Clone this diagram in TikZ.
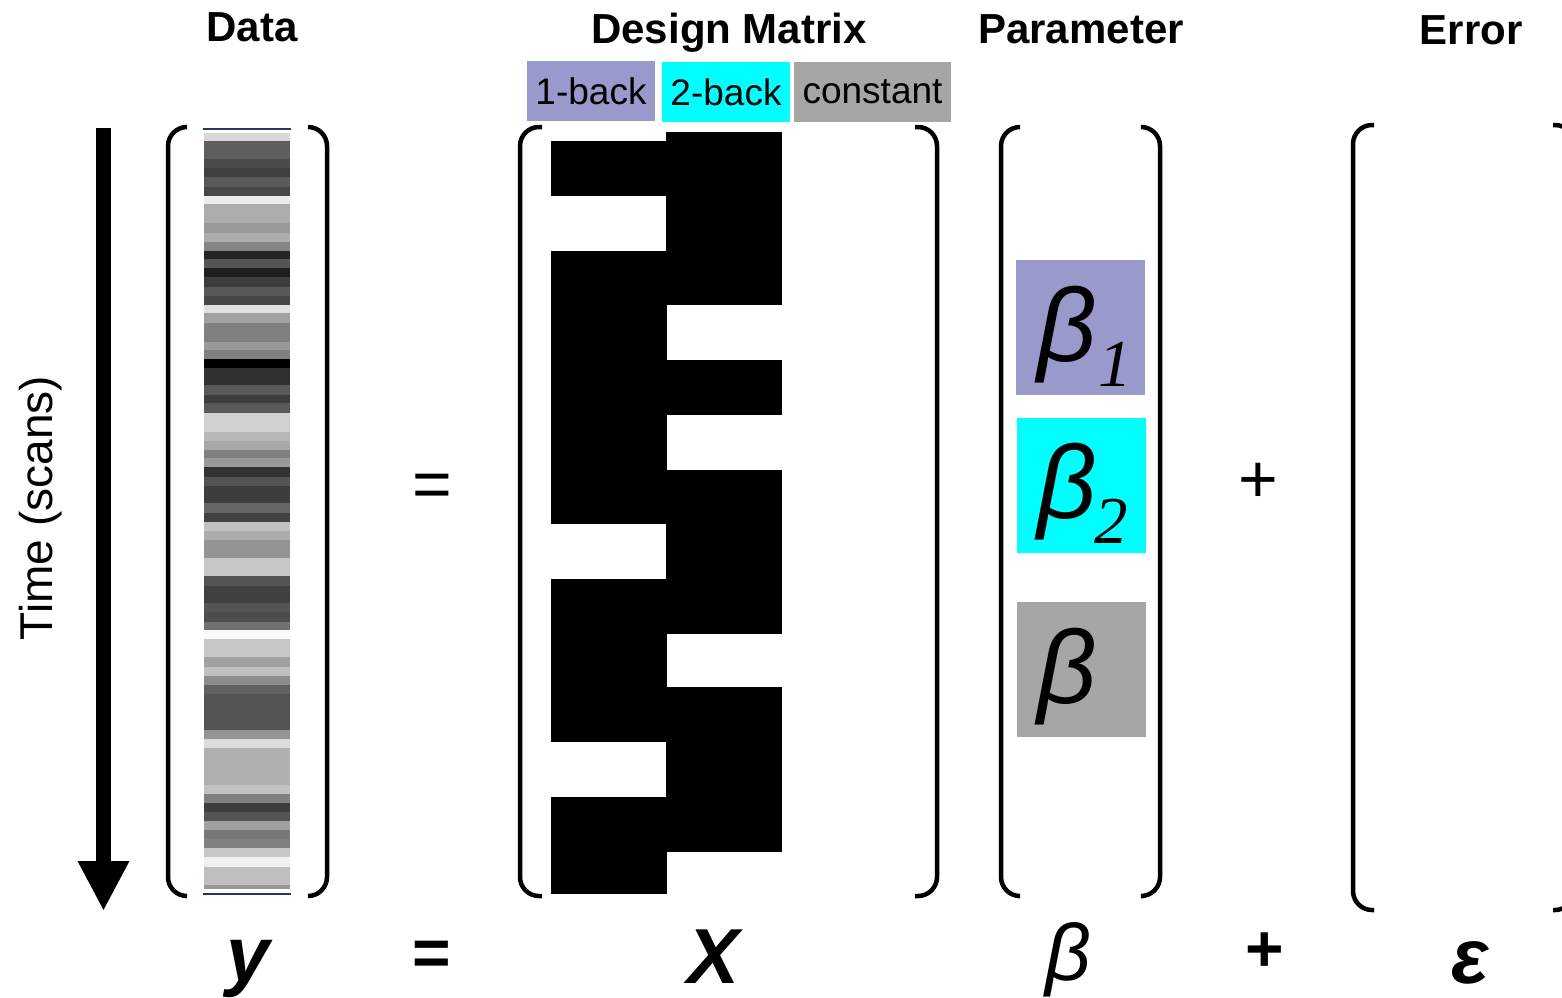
\documentclass[tikz,border=0pt]{standalone}
\usepackage{fontspec}
\setmainfont{Liberation Sans}
\newfontfamily\serifgr{Liberation Serif}
\usetikzlibrary{arrows.meta}
\definecolor{lav}{HTML}{9999CC}
\definecolor{cyn}{HTML}{00FFFF}
\definecolor{cgray}{HTML}{A6A6A6}
\definecolor{navyline}{HTML}{203864}
\begin{document}
\begin{tikzpicture}[x=1pt,y=-1pt,
  brk/.style={line width=4.5pt, rounded corners=19pt},
  hdr/.style={font=\fontsize{42}{42}\selectfont\bfseries, anchor=base, inner sep=0pt},
  lbl/.style={font=\fontsize{37}{37}\selectfont, minimum height=60pt, inner sep=0pt, anchor=center},
  betabox/.style={minimum width=129pt, minimum height=135pt, inner sep=0pt, anchor=north west},
  bigbeta/.style={font=\fontsize{104}{104}\selectfont\itshape, anchor=base west, inner sep=0pt},
  subs/.style={font=\fontsize{67}{67}\selectfont\serifgr\itshape, anchor=base west, inner sep=0pt},
  eqn/.style={font=\fontsize{78}{78}\selectfont\bfseries\itshape, anchor=base, inner sep=0pt},
  eqnl/.style={font=\fontsize{80}{80}\selectfont\itshape, anchor=base, inner sep=0pt},
  op/.style={font=\fontsize{68}{68}\selectfont, inner sep=0pt},
  opb/.style={font=\fontsize{66}{66}\selectfont\bfseries, inner sep=0pt}]
\useasboundingbox (0,0) rectangle (1562,997);

% headers
\node[hdr] (hData) at (252,41) {Data};
\node[hdr] (hDesign) at (729,43) {Design Matrix};
\node[hdr] (hParam) at (1081,43) {Parameter};
\node[hdr] (hErr) at (1471,44) {Error};

% regressor labels
\node[lbl, fill=lav, minimum width=128pt] (l1) at (591,91) {1-back};
\node[lbl, fill=cyn, minimum width=128pt] (l2) at (726,92) {2-back};
\node[lbl, fill=cgray, minimum width=157pt] (l3) at (872.5,92) {constant};

% time arrow
\coordinate (tA) at (103.5,128);
\coordinate (tB) at (103.5,911);
\draw[line width=15pt, -{Triangle[width=48pt,length=50pt]}] (tA) -- (tB);
\node[rotate=90, font=\fontsize{46}{46}\selectfont, inner sep=0pt] (time) at (41,508) {Time (scans)};

% data column
\foreach \a/\b/\g in {133/141/85,141/159/37,159/168/29,168/177/25,177/187/35,187/196/28,
  196/204/92,204/223/68,223/233/60,233/242/68,242/251/52,251/259/14,259/268/33,268/277/12,
  277/287/24,287/296/35,296/305/28,305/313/88,313/323/63,323/342/50,342/350/60,350/359/50,
  359/368/0,368/385/19,385/395/35,395/403/24,403/413/35,413/432/82,432/441/72,441/450/66,
  450/458/50,458/467/60,467/477/20,477/486/33,486/503/24,503/513/40,513/522/26,522/531/76,
  531/540/68,540/558/58,558/576/78,576/586/33,586/603/25,603/612/33,612/622/30,622/630/44,
  630/639/98,639/657/78,657/667/63,667/676/75,676/685/55,685/694/38,694/730/33,730/739/58,
  739/748/86,748/785/69,785/794/76,794/803/50,803/812/24,812/821/33,821/830/63,830/839/47,
  839/848/50,848/857/78,857/867/94,867/885/75,885/889/60}
  \fill[white!\g!black] (204,\a) rectangle (290,\b);
\draw[navyline, line width=2pt] (203,129) -- (291,129);
\draw[navyline, line width=2pt] (203,894) -- (291,894);
\draw[brk] (187,127) -- (168,127) -- (168,896) -- (187,896);
\draw[brk] (308,127) -- (327,127) -- (327,896) -- (308,896);

% equals
\node[op] (eq1) at (432,491) {=};

% design matrix
\foreach \a/\b in {141/196,251/524,579/742,797/894}
  \fill[black] (551,\a) rectangle (666.5,\b);
\foreach \a/\b in {132/305,360/415,470/634,687/852}
  \fill[black] (666,\a) rectangle (782,\b);
\draw[brk] (542,127) -- (520,127) -- (520,896) -- (542,896);
\draw[brk] (915,127) -- (937,127) -- (937,896) -- (915,896);

% parameters
\draw[brk] (1018,127) -- (1001,127) -- (1001,896) -- (1018,896);
\draw[brk] (1143,127) -- (1160,127) -- (1160,896) -- (1143,896);
\node[betabox, fill=lav] (b1) at (1016,260) {};
\node[betabox, fill=cyn] (b2) at (1017,418) {};
\node[betabox, fill=cgray] (b3) at (1017,602) {};
\node[bigbeta] (b1t) at (1037,361) {β};
\node[subs] (b1s) at (1098,386) {1};
\node[bigbeta] (b2t) at (1037,518) {β};
\node[subs] (b2s) at (1094,543) {2};
\node[bigbeta] (b3t) at (1037,703) {β};

% plus
\node[op] (pl1) at (1258,483) {+};

% error
\draw[brk] (1374,125) -- (1353,125) -- (1353,910) -- (1374,910);
\draw[brk] (1553,125) -- (1574,125) -- (1574,910) -- (1553,910);

% bottom equation
\node[eqn] (ey) at (248,981) {y};
\node[opb] (eeq) at (432,958) {=};
\node[eqn] (eX) at (714,983) {X};
\node[eqnl] (eb) at (1068,980) {β};
\node[opb] (epl) at (1265,952) {+};
\node[eqn] (ee) at (1470,983) {ε};
\end{tikzpicture}
\end{document}
